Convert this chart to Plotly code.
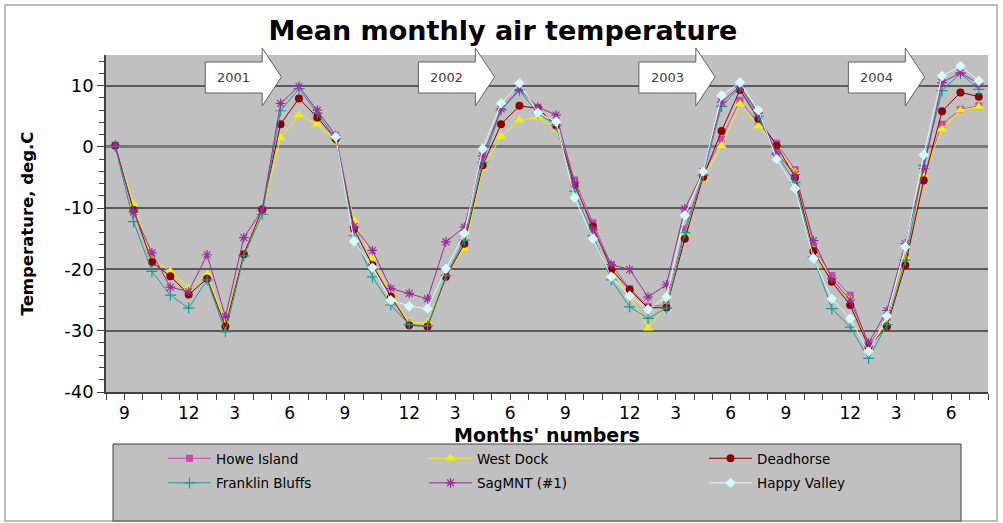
import plotly.graph_objects as go

# ---------------- data ----------------
month_index = list(range(48))          # Sep 2000 ... Aug 2004 (category positions)
month_labels = ["9", "12", "3", "6", "9", "12", "3", "6", "9", "12", "3", "6", "9", "12", "3", "6"]
year_labels = ["2001", "2002", "2003", "2004"]
year_arrow_start = [4.9, 16.5, 28.5, 39.9]   # category position where each year arrow begins

howe_island = [None, None, None, None, None, None, None, None, None, None, None, None,
               None, None, None, None, None, None, None, None, None, None, None, None,
               3.2, -5.4, -12.4, -19.3, -23.1, -26.0, -25.8, -13.4, -4.5, 1.3, 7.6, 3.9,
               0.6, -3.7, -16.3, -21.0, -24.2, -32.4, -28.2, -17.9, -4.8, 3.7, 6.1, 6.7]
west_dock = [0.0, -9.3, -18.3, -20.3, -23.0, -20.8, -28.7, -17.4, -10.5, 1.5, 5.2, 3.7,
             1.0, -12.0, -18.1, -23.9, -28.6, -28.7, -21.0, -16.6, -3.5, 1.7, 4.4, 4.9,
             2.9, -5.9, -13.2, -20.2, -24.2, -29.6, -25.8, -14.3, -5.2, 0.2, 7.0, 3.4,
             0.0, -4.1, -16.8, -21.5, -24.8, -32.8, -28.5, -17.9, -4.5, 2.9, 6.0, 6.5]
deadhorse = [0.2, -10.3, -18.8, -21.1, -24.1, -21.5, -29.3, -17.5, -10.2, 3.7, 7.9, 4.8,
             1.3, -13.4, -19.3, -24.4, -29.1, -29.3, -21.2, -15.8, -3.0, 3.7, 6.7, 6.3,
             3.5, -6.2, -13.0, -20.0, -23.3, -26.3, -26.2, -15.0, -4.9, 2.6, 9.3, 4.6,
             0.2, -5.0, -17.0, -22.0, -25.8, -32.6, -29.3, -19.3, -5.5, 5.8, 8.9, 8.2]
franklin_bluffs = [0.1, -12.2, -20.3, -24.2, -26.3, -21.7, -30.2, -17.8, -11.0, 5.9, 9.5, 5.5,
                   1.4, -14.5, -21.2, -25.8, -29.0, -29.2, -21.0, -15.2, -2.5, 6.0, 9.2, 5.5,
                   3.5, -7.2, -14.5, -21.7, -26.1, -28.0, -26.3, -14.0, -4.6, 6.6, 9.8, 5.0,
                   -1.2, -5.8, -18.0, -26.4, -29.4, -34.5, -29.0, -18.5, -3.0, 9.2, 12.0, 9.4]
sagmnt = [0.3, -10.6, -17.3, -22.9, -23.6, -17.6, -27.7, -14.8, -10.3, 7.1, 9.9, 6.0,
          1.9, -13.0, -16.9, -23.1, -23.9, -24.8, -15.5, -13.1, -1.5, 6.2, 9.4, 6.5,
          5.2, -5.8, -13.5, -19.2, -20.0, -24.5, -22.5, -10.1, -4.0, 7.3, 9.9, 5.5,
          -1.0, -4.5, -15.3, -21.5, -25.0, -32.0, -26.7, -15.8, -3.5, 10.5, 12.1, 10.3]
happy_valley = [None, None, None, None, None, None, None, None, None, None, None, None,
                1.6, -15.4, -19.7, -25.0, -26.0, -26.4, -19.9, -14.1, -0.3, 7.1, 10.4, 5.6,
                4.1, -8.3, -15.0, -21.2, -24.3, -26.5, -24.5, -11.2, -4.0, 8.4, 10.5, 6.0,
                -2.0, -6.8, -18.2, -24.8, -28.0, -33.4, -27.6, -16.3, -1.3, 11.6, 13.2, 10.8]

series_names = ["Howe Island", "West Dock", "Deadhorse", "Franklin Bluffs", "SagMNT (#1)", "Happy Valley"]
series_values = [howe_island, west_dock, deadhorse, franklin_bluffs, sagmnt, happy_valley]

# ---------------- styles ----------------
styles = [
    dict(color="#CC44B8", symbol="square", size=7, lw=1),
    dict(color="#F2F200", symbol="triangle-up", size=9, lw=1),
    dict(color="#8B0000", symbol="circle", size=8, lw=1),
    dict(color="#1A9A9A", symbol="cross-thin", size=8, lw=1),
    dict(color="#9A2E9A", symbol="asterisk", size=8, lw=1),
    dict(color="#D6FBFF", symbol="diamond", size=8, lw=1),
]
legend_ids = ["legend", "legend2", "legend3", "legend", "legend2", "legend3"]

FONT = "DejaVu Sans"

fig = go.Figure()
for name, vals, st, lg in zip(series_names, series_values, styles, legend_ids):
    marker = dict(color=st["color"], symbol=st["symbol"], size=st["size"])
    if st["symbol"] in ("cross-thin", "asterisk"):
        marker["line"] = dict(color=st["color"], width=1.2)
    fig.add_trace(go.Scatter(
        x=month_index, y=vals, name=name, mode="lines+markers",
        line=dict(color=st["color"], width=st["lw"]),
        marker=marker, connectgaps=False, legend=lg, legendgroup=name,
    ))

# x tick label positions (between categories, as in the original)
tick_pos = [0.5 + 3 * j + (0.5 if lab == "12" else 0.0) for j, lab in enumerate(month_labels)]

# ---------------- geometry helpers (pixels -> paper) ----------------
W, H = 1003, 523
ML, MR, MT, MB = 106, 15, 55, 131
PW, PH = W - ML - MR, H - MT - MB


def px_x(p):
    return (p - ML) / PW


def px_y(p):
    return (H - MB - p) / PH


shapes = []
# chart outer border
shapes.append(dict(type="rect", xref="paper", yref="paper",
                   x0=px_x(5), x1=px_x(997), y0=px_y(521), y1=px_y(5),
                   line=dict(color="#a8a8a8", width=1.5), fillcolor="rgba(0,0,0,0)", layer="below"))
# legend box
shapes.append(dict(type="rect", xref="paper", yref="paper",
                   x0=px_x(113), x1=px_x(961), y0=px_y(521), y1=px_y(444),
                   line=dict(color="#404040", width=1), fillcolor="#c0c0c0", layer="below"))

annotations = []
# year arrows
body_len, head_len = 3.1, 1.05
y_head_top, y_body_top, y_tip, y_body_bot, y_head_bot = px_y(48), px_y(62), px_y(77), px_y(93), px_y(106)
for yr, x0 in zip(year_labels, year_arrow_start):
    xb = x0 + body_len
    xt = xb + head_len
    path = (f"M {x0},{y_body_bot} L {xb},{y_body_bot} L {xb},{y_head_bot} L {xt},{y_tip} "
            f"L {xb},{y_head_top} L {xb},{y_body_top} L {x0},{y_body_top} Z")
    shapes.append(dict(type="path", xref="x", yref="paper", path=path,
                       fillcolor="white", line=dict(color="#606060", width=1), layer="above"))
    annotations.append(dict(x=x0 + body_len / 2, y=y_tip, xref="x", yref="paper", text=yr,
                            showarrow=False, font=dict(family=FONT, size=13, color="#404040"),
                            xanchor="center", yanchor="middle"))

fig.update_layout(
    width=W, height=H,
    margin=dict(l=ML, r=MR, t=MT, b=MB),
    paper_bgcolor="white",
    plot_bgcolor="#c0c0c0",
    title=dict(text="<b>Mean monthly air temperature</b>", x=px_x(503), xref="paper", xanchor="center",
               y=1 - 31 / H, yref="container", yanchor="middle",
               font=dict(family=FONT, size=27, color="black")),
    xaxis=dict(
        range=[-0.5, 47.5], tickmode="array", tickvals=tick_pos, ticktext=month_labels,
        ticks="outside", ticklen=5, tickcolor="rgba(0,0,0,0)",
        minor=dict(tick0=-0.5, dtick=1, ticks="outside", ticklen=6, tickcolor="#404040", tickwidth=1),
        showgrid=False, zeroline=False, showline=True, linecolor="#404040", linewidth=1.5,
        tickfont=dict(family=FONT, size=17, color="black"),
        title=dict(text="<b>Months' numbers</b>", font=dict(family=FONT, size=19, color="black"), standoff=7),
    ),
    yaxis=dict(
        range=[-40, 15], tickmode="array", tickvals=[-40, -30, -20, -10, 0, 10],
        ticktext=["-40", "-30", "-20", "-10", "0", "10"],
        ticks="outside", ticklen=7, tickcolor="#404040", tickwidth=1,
        minor=dict(dtick=2, tick0=0, ticks="outside", ticklen=5, tickcolor="#404040", tickwidth=1, showgrid=False),
        showgrid=True, gridcolor="#5a5a5a", gridwidth=1.5,
        zeroline=True, zerolinecolor="#7a7a7a", zerolinewidth=3,
        showline=True, linecolor="#404040", linewidth=1.5,
        tickfont=dict(family=FONT, size=18, color="black"),
        title=dict(text="<b>Temperature, deg.C</b>", font=dict(family=FONT, size=16.5, color="black"), standoff=26),
    ),
    shapes=shapes,
    annotations=annotations,
    showlegend=True,
)

legend_common = dict(orientation="v", bgcolor="rgba(0,0,0,0)", borderwidth=0, itemwidth=43,
                     font=dict(family=FONT, size=13.5, color="black"), tracegroupgap=4,
                     xanchor="left", yanchor="top", y=px_y(443), itemclick=False)
fig.update_layout(
    legend=dict(x=px_x(163), **legend_common),
    legend2=dict(x=px_x(424), **legend_common),
    legend3=dict(x=px_x(704), **legend_common),
)

# remove the default page margin so the figure sits at the window origin
fig.write_html("out.html", config={"displayModeBar": False},
               post_script="document.body.style.margin='0';")
